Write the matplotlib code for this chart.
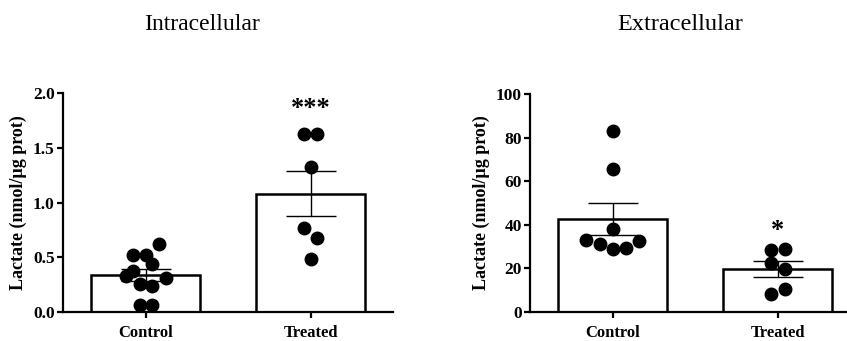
import numpy as np
import matplotlib
matplotlib.use("Agg")
import matplotlib.pyplot as plt

plt.rcParams['font.family'] = ['Liberation Serif', 'DejaVu Serif']

groups = ['Control', 'Treated']

# Intracellular (nmol/ug prot)
intra_control = [0.525, 0.525, 0.62, 0.443, 0.372, 0.327, 0.315, 0.26, 0.235, 0.067, 0.067]
intra_control_dx = [-0.077, 0.0, 0.081, 0.04, -0.077, -0.117, 0.121, -0.036, 0.04, -0.036, 0.04]
intra_treated = [1.627, 1.627, 1.322, 0.763, 0.672, 0.482]
intra_treated_dx = [-0.04, 0.04, 0.0, -0.04, 0.04, 0.0]

# Extracellular (nmol/ug prot)
extra_control = [83.2, 65.4, 38.0, 32.9, 31.1, 28.6, 29.4, 32.5]
extra_control_dx = [0.0, 0.0, 0.0, -0.16, -0.077, 0.0, 0.08, 0.157]
extra_treated = [28.3, 28.6, 22.2, 19.6, 10.4, 8.1]
extra_treated_dx = [-0.04, 0.04, -0.04, 0.04, 0.04, -0.04]


def panel(ax, ctrl, ctrl_dx, trt, trt_dx, ylim, yticks, fmt, star, star_y):
    data = [ctrl, trt]
    dxs = [ctrl_dx, trt_dx]
    means = [np.mean(d) for d in data]
    sems = [np.std(d, ddof=1) / np.sqrt(len(d)) for d in data]
    x = np.arange(len(groups))
    ax.bar(x, means, width=0.66, color='white', edgecolor='black', linewidth=1.8, zorder=1)
    ax.errorbar(x, means, yerr=sems, fmt='none', ecolor='black', elinewidth=1.0,
                capsize=18, capthick=1.0, zorder=2)
    for i, (d, dx) in enumerate(zip(data, dxs)):
        ax.plot(i + np.array(dx), d, 'o', color='black', markersize=9, zorder=3, clip_on=False)
    ax.text(1, star_y, star, ha='center', va='center', fontsize=19, fontweight='bold')
    ax.set_xlim(-0.5, 1.5)
    ax.set_ylim(*ylim)
    ax.set_yticks(yticks)
    ax.set_yticklabels([fmt.format(v) for v in yticks])
    ax.set_xticks(x)
    ax.set_xticklabels(groups)
    for s in ['top', 'right']:
        ax.spines[s].set_visible(False)
    for s in ['left', 'bottom']:
        ax.spines[s].set_linewidth(1.6)
    ax.tick_params(width=1.6, length=4.5, labelsize=12.5, pad=1.5)
    ax.tick_params(axis='x', labelsize=12, pad=5)
    for lab in ax.get_xticklabels() + ax.get_yticklabels():
        lab.set_fontweight('bold')
    ax.set_ylabel('Lactate (nmol/µg prot)', fontsize=13, fontweight='bold', labelpad=4)


fig = plt.figure(figsize=(8.47, 3.41), dpi=100)
ax1 = fig.add_axes([0.0744, 0.085, 0.39, 0.642])
ax2 = fig.add_axes([0.626, 0.086, 0.39, 0.638])

panel(ax1, intra_control, intra_control_dx, intra_treated, intra_treated_dx,
      (0, 2.0), [0, 0.5, 1.0, 1.5, 2.0], '{:.1f}', '***', 1.86)
panel(ax2, extra_control, extra_control_dx, extra_treated, extra_treated_dx,
      (0, 100), [0, 20, 40, 60, 80, 100], '{:.0f}', '*', 37.5)

fig.text(201.5 / 847, 1 - 25 / 341, 'Intracellular', ha='center', va='center', fontsize=17)
fig.text(680 / 847, 1 - 25 / 341, 'Extracellular', ha='center', va='center', fontsize=17.5)

fig.savefig('out.png', dpi=100)
